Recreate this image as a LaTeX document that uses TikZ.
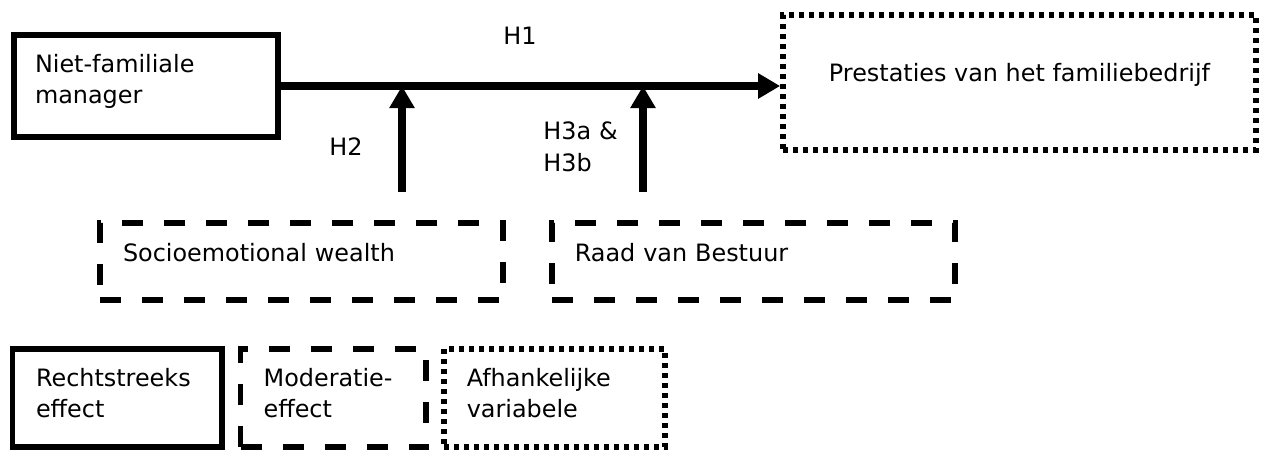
\documentclass[tikz,border=0pt]{standalone}
\usepackage{fontspec}
\setmainfont{DejaVu Sans}
\usetikzlibrary{positioning, arrows.meta}

\begin{document}
\begin{tikzpicture}[
    box/.style={rectangle, draw, line width=3.2pt, align=left, inner ysep=0pt},
    solidbox/.style={box},
    dashbox/.style={box, dash pattern=on 0.42cm off 0.42cm},
    dotbox/.style={box, dash pattern=on 0.1cm off 0.1cm},
    legend/.style={minimum height=1.96cm, inner xsep=0.46cm, text depth=24pt},
    arrow/.style={-{Triangle[length=0.44cm, width=0.48cm]}, line width=4.4pt},
    every node/.style={font=\fontsize{13.6}{18}\selectfont}
]

\useasboundingbox (0,0) rectangle (25.26,-9.0);

% Direct effect: manager -> performance
\node[solidbox, minimum width=5.28cm, minimum height=2.04cm, inner xsep=0.42cm,
      text width=4.44cm, text depth=26pt] (mgr) at (2.92,-1.72) {Niet-familiale\\manager};
\node[dotbox, minimum width=9.46cm, minimum height=2.7cm, align=center,
      text depth=11.5pt] (perf) at (20.39,-1.65) {Prestaties van het familiebedrijf};

\draw[arrow] (mgr.east) -- (mgr.east -| perf.west);
\node (h1) at (10.4,-0.71) {H1};

% Moderators
\node[dashbox, minimum width=8.06cm, minimum height=1.54cm, inner xsep=0.46cm,
      text width=7.14cm, text depth=10.8pt] (sew) at (6.03,-5.23) {Socioemotional wealth};
\node[dashbox, minimum width=8.07cm, minimum height=1.54cm, inner xsep=0.46cm,
      text width=7.15cm, text depth=10.8pt] (board) at (15.07,-5.23) {Raad van Bestuur};

\coordinate (h2base) at (8.04,-3.84);
\coordinate (h3base) at (12.86,-3.84);

\draw[arrow] (h2base) -- (h2base |- mgr.east);
\draw[arrow] (h3base) -- (h3base |- mgr.east);

\node (h2) at (6.92,-2.93) {H2};
\node[inner sep=0pt, anchor=north west, align=left, text width=1.8cm] (h3) at (10.86,-2.43) {H3a \&\\H3b};

% Legend
\node[solidbox, legend, minimum width=4.19cm, text width=3.25cm] (direct) at (2.345,-7.96) {Rechtstreeks\\effect};
\node[dashbox, legend, minimum width=3.71cm, text width=2.79cm, right=0.26cm of direct] (moder) {Moderatie-\\effect};
\node[dotbox, legend, minimum width=4.42cm, text width=3.5cm, right=0.24cm of moder] (dep) {Afhankelijke\\variabele};

\end{tikzpicture}
\end{document}
